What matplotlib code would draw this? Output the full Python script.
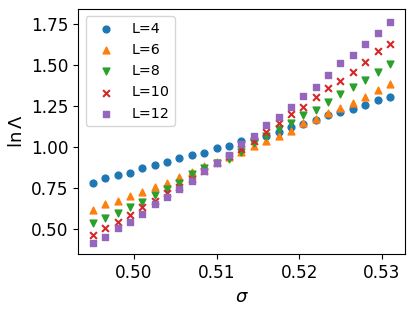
import matplotlib
matplotlib.use("Agg")
import matplotlib.pyplot as plt
import numpy as np

# sigma grid, 25 points
sigma = [0.4950, 0.4965, 0.4980, 0.4995, 0.5010, 0.5025, 0.5040, 0.5055, 0.5070,
         0.5085, 0.5100, 0.5115, 0.5130, 0.5145, 0.5160, 0.5175, 0.5190, 0.5205,
         0.5220, 0.5235, 0.5250, 0.5265, 0.5280, 0.5295, 0.5310]

ln_lambda_L4 = [0.782, 0.807, 0.826, 0.841, 0.870, 0.888, 0.909, 0.933, 0.948,
                0.965, 0.992, 1.006, 1.035, 1.047, 1.065, 1.091, 1.123, 1.137,
                1.163, 1.193, 1.213, 1.228, 1.254, 1.285, 1.305]
ln_lambda_L6 = [0.614, 0.649, 0.671, 0.699, 0.726, 0.752, 0.780, 0.815, 0.848,
                0.881, 0.910, 0.937, 0.971, 1.002, 1.034, 1.065, 1.095, 1.143,
                1.167, 1.204, 1.238, 1.268, 1.305, 1.346, 1.382]
ln_lambda_L8 = [0.533, 0.563, 0.598, 0.630, 0.665, 0.705, 0.740, 0.780, 0.834,
                0.873, 0.901, 0.923, 0.970, 1.021, 1.068, 1.106, 1.142, 1.193,
                1.227, 1.274, 1.320, 1.366, 1.407, 1.457, 1.504]
ln_lambda_L10 = [0.462, 0.502, 0.543, 0.584, 0.634, 0.671, 0.716, 0.756, 0.806,
                 0.855, 0.904, 0.946, 0.989, 1.036, 1.091, 1.143, 1.199, 1.244,
                 1.305, 1.357, 1.402, 1.457, 1.518, 1.585, 1.626]
ln_lambda_L12 = [0.415, 0.451, 0.502, 0.543, 0.590, 0.649, 0.691, 0.744, 0.794,
                 0.852, 0.902, 0.952, 1.016, 1.068, 1.130, 1.181, 1.245, 1.310,
                 1.365, 1.440, 1.509, 1.562, 1.629, 1.695, 1.762]

labels = ["L=4", "L=6", "L=8", "L=10", "L=12"]
markers = ["o", "^", "v", "x", "s"]


def draw():
    fig = plt.figure(figsize=(4.15, 3.11), dpi=100)
    axes = fig.add_axes([0.189, 0.182, 0.787, 0.789])
    series = [ln_lambda_L4, ln_lambda_L6, ln_lambda_L8, ln_lambda_L10, ln_lambda_L12]
    for i in range(len(series)):
        axes.scatter(sigma, series[i], s=24, marker=markers[i], color="C" + str(i),
                     label=labels[i])
    axes.set_xlim(0.49326, 0.53282)
    axes.set_ylim(0.344, 1.8396)
    axes.set_xticks([0.50, 0.51, 0.52, 0.53])
    axes.set_yticks([0.50, 0.75, 1.00, 1.25, 1.50, 1.75])
    axes.tick_params(labelsize=12.2)
    axes.set_xlabel(r"$\sigma$", fontsize=13)
    axes.set_ylabel(r"$\ln\Lambda$", fontsize=13)
    axes.legend(loc="upper left", fontsize=10.3)
    fig.savefig("out.png", dpi=100)


if __name__ == "__main__":
    draw()
